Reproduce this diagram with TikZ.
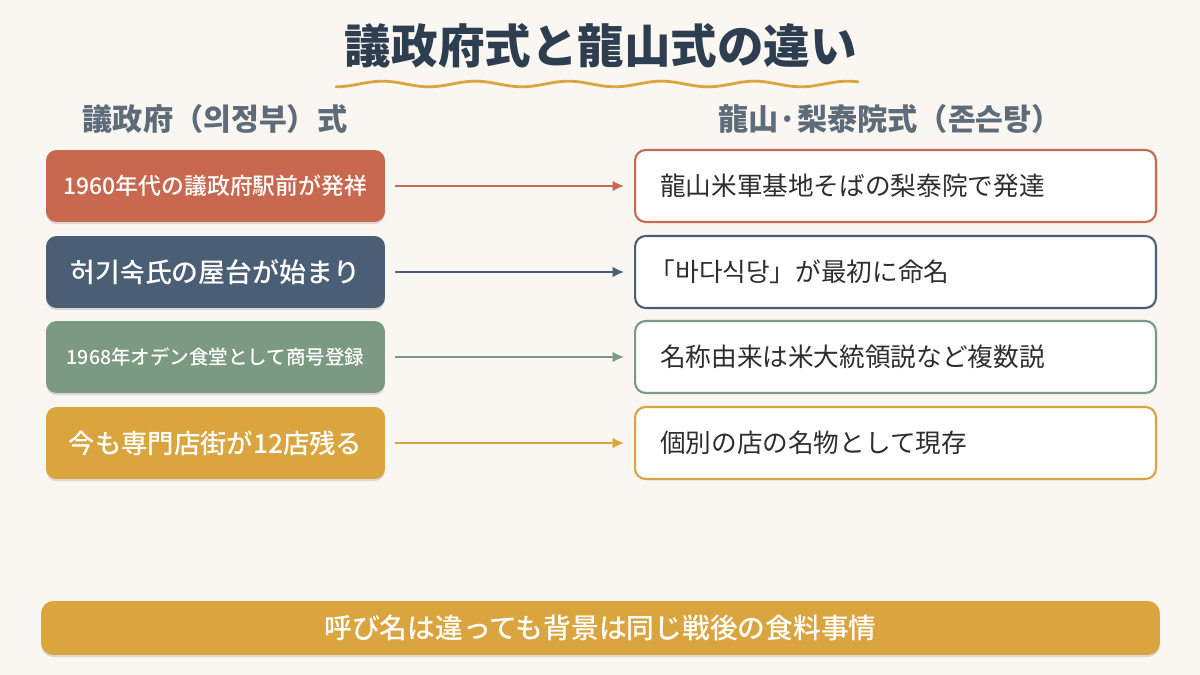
\documentclass[tikz,border=0pt]{standalone}
\usepackage{fontspec}
\setmainfont{Noto Sans CJK JP}
\newfontfamily\medfont{Noto Sans CJK JP Medium}
\usepackage{tikz}
\usetikzlibrary{arrows.meta,shadows}
\definecolor{bgcream}{HTML}{FAF6F1}
\definecolor{titlenavy}{HTML}{2C3E50}
\definecolor{headgray}{HTML}{5E6C7A}
\definecolor{terracotta}{HTML}{C8694F}
\definecolor{slateblue}{HTML}{4A5F75}
\definecolor{sagegreen}{HTML}{7B9A81}
\definecolor{mustard}{HTML}{DAA43F}
\definecolor{bodytext}{HTML}{2E2E2E}

\begin{document}
\begin{tikzpicture}[
  x=0.02cm, y=-0.02cm,
  lbox/.style={rounded corners=6pt, minimum width=6.78cm, minimum height=1.44cm,
    text=white, inner sep=0pt,
    drop shadow={shadow xshift=0pt, shadow yshift=-1.2pt, opacity=0.12, fill=black}},
  rbox/.style={rounded corners=6pt, fill=white, line width=1.2pt,
    minimum width=10.42cm, minimum height=1.44cm, text width=9.42cm, align=left,
    inner xsep=0.5cm, inner ysep=0pt, text=bodytext,
    font=\fontsize{14.6}{16}\selectfont},
  arr/.style={-{Latex[length=6.5pt,width=6pt]}, line width=1pt,
    shorten <=0.2cm, shorten >=0.2cm},
  colhead/.style={font=\bfseries\fontsize{17.2}{19}\selectfont, text=headgray}
]

\fill[bgcream] (0,0) rectangle (1200,675);
\useasboundingbox (0,0) rectangle (1200,675);

% title
\node[font=\bfseries\fontsize{26.5}{29}\selectfont, text=titlenavy] (title) at (601,46) {議政府式と龍山式の違い};
\draw[mustard, line width=1.6pt, line cap=round]
  plot[domain=336:858, samples=160] (\x, {84+2.8*cos((\x-336)*3.871)});

% column heads
\node[colhead] (hl) at (215,119) {議政府（의정부）式};
\node[colhead] (hr) at (890,119) {龍山·梨泰院式（존슨탕）};

% left column
\node[lbox, fill=terracotta, font=\medfont\fontsize{13}{15}\selectfont] (L1) at (215.5,186) {1960年代の議政府駅前が発祥};
\node[lbox, fill=slateblue, font=\medfont\fontsize{15.3}{17}\selectfont] (L2) at (215.5,272) {허기숙氏の屋台が始まり};
\node[lbox, fill=sagegreen, font=\medfont\fontsize{11.1}{13}\selectfont] (L3) at (215.5,357) {1968年オデン食堂として商号登録};
\node[lbox, fill=mustard, font=\medfont\fontsize{15}{17}\selectfont] (L4) at (215.5,443) {今も専門店街が12店残る};

% right column
\node[rbox, draw=terracotta] (R1) at (895.5,186) {龍山米軍基地そばの梨泰院で発達};
\node[rbox, draw=slateblue] (R2) at (895.5,272) {\hspace{-0.4em}「바다식당」が最初に命名};
\node[rbox, draw=sagegreen] (R3) at (895.5,357) {名称由来は米大統領説など複数説};
\node[rbox, draw=mustard] (R4) at (895.5,443) {個別の店の名物として現存};

\draw[arr, terracotta] (L1) -- (R1);
\draw[arr, slateblue] (L2) -- (R2);
\draw[arr, sagegreen] (L3) -- (R3);
\draw[arr, mustard] (L4) -- (R4);

% bottom line
\node[lbox, fill=mustard, rounded corners=7pt, minimum width=22.38cm, minimum height=1.08cm,
  font=\medfont\fontsize{15.8}{17}\selectfont] (note) at (600.5,628) {呼び名は違っても背景は同じ戦後の食料事情};

\end{tikzpicture}
\end{document}
